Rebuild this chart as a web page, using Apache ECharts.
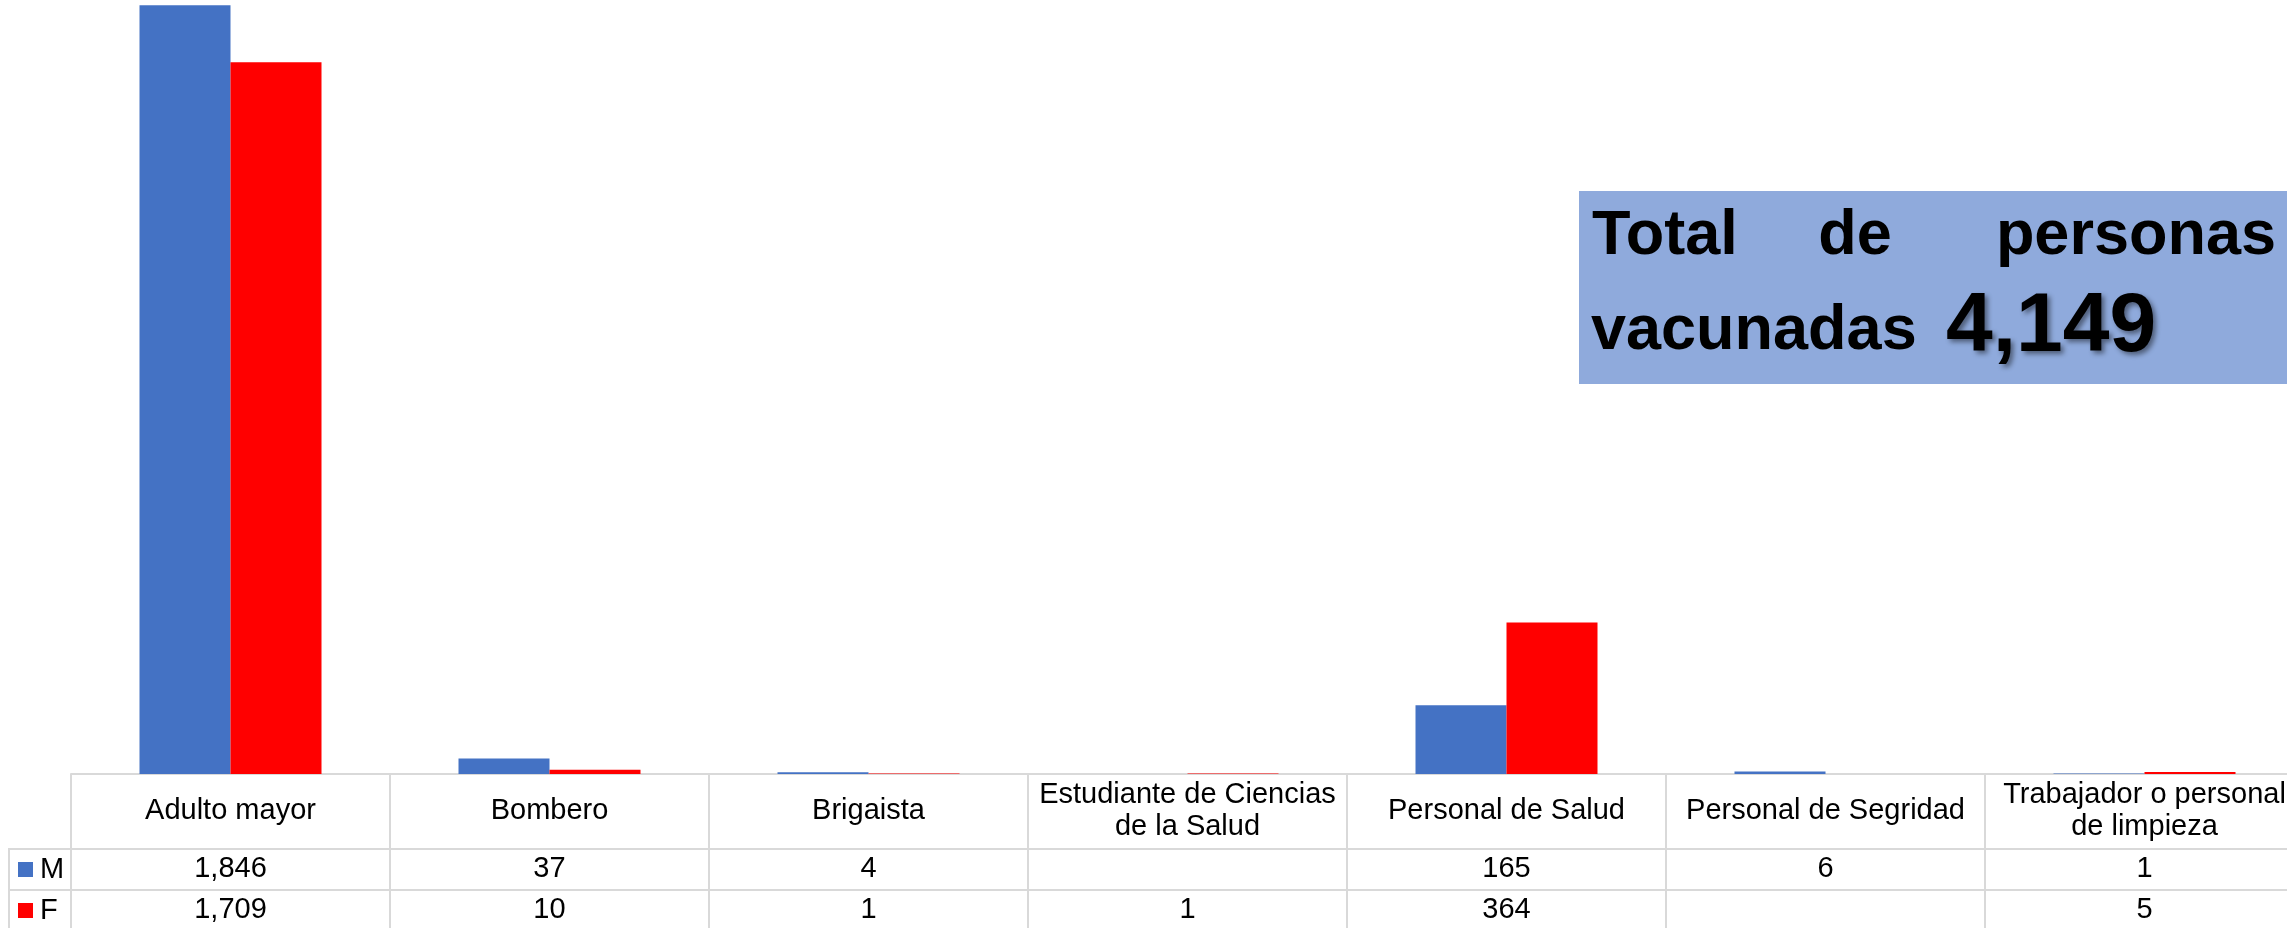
<!DOCTYPE html>
<html>
<head>
<meta charset="utf-8">
<title>Personas vacunadas por grupo y sexo</title>
<script src="https://cdn.jsdelivr.net/npm/echarts@6/dist/echarts.min.js"></script>
<style>
  html, body { margin: 0; padding: 0; background: #fff; overflow: hidden; }
  body { width: 2287px; height: 928px; }
  /* la última columna de la tabla continúa más allá del borde derecho */
  #chart { width: 2320px; height: 928px; }
</style>
</head>
<body>
<div id="chart"></div>
<script>
// Grupos de población vacunados
const categories = [
  'Adulto mayor',
  'Bombero',
  'Brigaista',
  'Estudiante de Ciencias\nde la Salud',
  'Personal de Salud',
  'Personal de Segridad',
  'Trabajador o personal\nde limpieza'
];
// Vacunados por sexo (null = sin registro)
const valuesM = [1846, 37, 4, null, 165, 6, 1];
const valuesF = [1709, 10, 1, 1, 364, null, 5];
const seriesNames = ['M', 'F'];

const FONT = '"Liberation Sans", Arial, Helvetica, sans-serif';
const GRID_LINE = '#D9D9D9';
const BLUE = '#4472C4';
const RED = '#FF0000';

const fmt = v => (v === null || v === undefined) ? '' : v.toLocaleString('en-US');
const total = valuesM.concat(valuesF).reduce((s, v) => s + (v || 0), 0);

const chart = echarts.init(document.getElementById('chart'), null, { renderer: 'canvas' });

// Fila de valores de la tabla bajo el eje, como eje de categorías adicional
function valueRowAxis(values, offset) {
  return {
    type: 'category',
    gridIndex: 0,
    data: categories,
    position: 'bottom',
    offset: offset,
    axisLine: { show: false },
    axisTick: { show: false },
    splitLine: { show: false },
    axisLabel: {
      interval: 0,
      margin: 0,
      verticalAlign: 'middle',
      fontFamily: FONT,
      fontSize: 29,
      color: '#000',
      formatter: (val, idx) => fmt(values[idx])
    }
  };
}

const legendBase = {
  orient: 'vertical',
  left: 18,
  padding: 0,
  itemWidth: 15,
  itemHeight: 15,
  icon: 'rect',
  selectedMode: false,
  textStyle: { fontFamily: FONT, fontSize: 29, color: '#000', lineHeight: 29, padding: [0, 0, 0, 2] }
};

const option = {
  animation: false,
  backgroundColor: '#fff',
  grid: { left: 71, top: 3.5, right: 16, height: 770.5 },
  legend: [
    Object.assign({}, legendBase, { data: [seriesNames[0]], top: 855 }),
    Object.assign({}, legendBase, { data: [seriesNames[1]], top: 896 })
  ],
  xAxis: [
    {
      type: 'category',
      data: categories,
      position: 'bottom',
      axisLine: { show: true, lineStyle: { color: GRID_LINE, width: 2 } },
      axisTick: { show: true, length: 156, lineStyle: { color: GRID_LINE, width: 2 } },
      splitLine: { show: false },
      axisLabel: {
        interval: 0,
        margin: 37,
        verticalAlign: 'middle',
        align: 'center',
        fontFamily: FONT,
        fontSize: 29,
        lineHeight: 32,
        color: '#000'
      }
    },
    valueRowAxis(valuesM, 95),
    valueRowAxis(valuesF, 136)
  ],
  yAxis: {
    type: 'value',
    min: 0,
    max: 1850,
    show: false,
    splitLine: { show: false }
  },
  series: [
    {
      name: seriesNames[0],
      type: 'bar',
      xAxisIndex: 0,
      data: valuesM,
      barWidth: 91,
      barGap: '0%',
      itemStyle: { color: BLUE }
    },
    {
      name: seriesNames[1],
      type: 'bar',
      xAxisIndex: 0,
      data: valuesF,
      barWidth: 91,
      barGap: '0%',
      itemStyle: { color: RED }
    }
  ],
  graphic: [
    // Líneas horizontales de la tabla (filas M y F) y borde izquierdo de la leyenda
    { type: 'line', shape: { x1: 9, y1: 849, x2: 2320, y2: 849 }, style: { stroke: GRID_LINE, lineWidth: 2 }, silent: true },
    { type: 'line', shape: { x1: 9, y1: 890, x2: 2320, y2: 890 }, style: { stroke: GRID_LINE, lineWidth: 2 }, silent: true },
    { type: 'line', shape: { x1: 9, y1: 848, x2: 9, y2: 928 }, style: { stroke: GRID_LINE, lineWidth: 2 }, silent: true },
    // Recuadro con el total
    { type: 'rect', shape: { x: 1579, y: 191, width: 741, height: 193 }, style: { fill: '#8FAADC' }, z: 10, silent: true },
    { type: 'text', x: 1592, y: 237, z: 11, silent: true,
      style: { text: 'Total', fontFamily: FONT, fontWeight: 'bold', fontSize: 63, fill: '#000', align: 'left', verticalAlign: 'middle' } },
    { type: 'text', x: 1855, y: 237, z: 11, silent: true,
      style: { text: 'de', fontFamily: FONT, fontWeight: 'bold', fontSize: 63, fill: '#000', align: 'center', verticalAlign: 'middle' } },
    { type: 'text', x: 2276, y: 237, z: 11, silent: true,
      style: { text: 'personas', fontFamily: FONT, fontWeight: 'bold', fontSize: 63, fill: '#000', align: 'right', verticalAlign: 'middle' } },
    { type: 'text', x: 1591, y: 332, z: 11, silent: true,
      style: { text: 'vacunadas', fontFamily: FONT, fontWeight: 'bold', fontSize: 63, fill: '#000', align: 'left', verticalAlign: 'middle' } },
    { type: 'text', x: 1946, y: 328, z: 11, silent: true,
      style: { text: fmt(total), fontFamily: FONT, fontWeight: 'bold', fontSize: 84, fill: '#000', align: 'left', verticalAlign: 'middle',
               textShadowColor: 'rgba(0,0,0,0.45)', textShadowBlur: 5, textShadowOffsetX: 3, textShadowOffsetY: 3 } }
  ]
};

chart.setOption(option);
</script>
</body>
</html>
